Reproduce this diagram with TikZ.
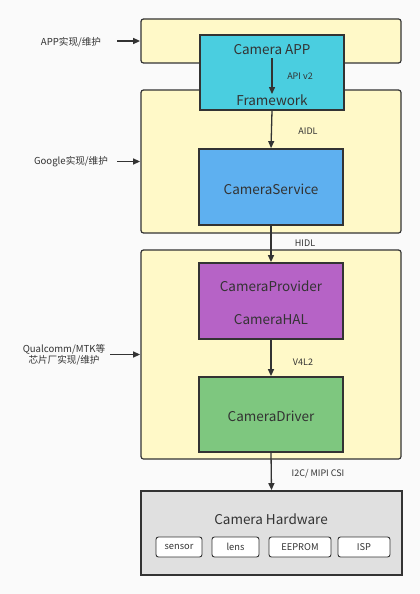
\documentclass[tikz,border=0pt]{standalone}
\usepackage{fontspec}
\setmainfont{Noto Sans CJK SC}
\usetikzlibrary{arrows.meta}
\definecolor{bgc}{HTML}{FAFAFA}
\definecolor{linec}{HTML}{333333}
\definecolor{txtc}{HTML}{333333}
\definecolor{yel}{HTML}{FFF9C8}
\definecolor{cyanc}{HTML}{4ACEE0}
\definecolor{bluec}{HTML}{5EB0F0}
\definecolor{purc}{HTML}{B663C6}
\definecolor{grnc}{HTML}{7EC77F}
\definecolor{grayc}{HTML}{E0E0E0}
\tikzset{
  ybox/.style={draw=linec, line width=1.2pt, fill=yel, rounded corners=2.5pt, minimum width=260pt, inner sep=0pt},
  cbox/.style={draw=linec, line width=1.2pt, minimum width=144pt, inner sep=0pt},
  sbox/.style={draw=linec, line width=0.9pt, fill=white, rounded corners=2.5pt, minimum height=20pt, inner sep=0pt, font=\fontsize{9.3}{10}\selectfont, text=txtc},
  big/.style={font=\fontsize{13.5}{15}\selectfont, text=txtc, inner sep=0pt},
  lab/.style={font=\fontsize{9}{11}\selectfont, text=txtc, inner sep=0pt},
  side/.style={font=\fontsize{9.6}{11.5}\selectfont, text=txtc, inner sep=0pt, align=center},
  arr/.style={-{Triangle[length=7pt,width=6pt]}, draw=linec, line width=1.3pt, shorten >=0.3pt},
}
\begin{document}
\begin{tikzpicture}[x=1pt,y=-1pt]
\fill[bgc] (0,0) rectangle (420,594);
\useasboundingbox (0,0) rectangle (420,594);
% yellow layers
\node[ybox, minimum height=44pt] (y1) at (271,41) {};
\node[ybox, minimum height=143pt] (y2) at (271,161.5) {};
\node[ybox, minimum height=209pt] (y3) at (271,354.5) {};
% inner boxes
\node[cbox, fill=cyanc, minimum height=75pt] (app) at (272,72.5) {};
\node[big] (apptxt) at (272,50) {Camera APP};
\node[big] (fw) at (272,100) {Framework};
\node[cbox, fill=bluec, minimum height=76pt] (svc) at (271,187) {};
\node[big] at (271,189) {CameraService};
\node[cbox, fill=purc, minimum height=76pt] (prov) at (271,301) {};
\node[big] (provtxt) at (271,286) {CameraProvider};
\node[big] (haltxt) at (271,320) {CameraHAL};
\node[cbox, fill=grnc, minimum height=75pt] (drv) at (271,414.5) {};
\node[big] at (271,416) {CameraDriver};
% hardware
\node[draw=linec, line width=1.2pt, fill=grayc, minimum width=261pt, minimum height=84pt, inner sep=0pt] (hw) at (271.5,533) {};
\node[big] (hwtxt) at (271,519) {Camera Hardware};
\node[sbox, minimum width=46pt] (sensor) at (179,547) {sensor};
\node[sbox, minimum width=47pt] (lens) at (235.5,547) {lens};
\node[sbox, minimum width=62pt] (eeprom) at (300,547) {EEPROM};
\node[sbox, minimum width=52pt] (isp) at (364,547) {ISP};
% vertical arrows
\draw[arr] (apptxt.south) ++(0,3) coordinate (a0) (a0) -- (fw.north);
\draw[arr] (app.south) -- (svc.north);
\draw[arr] (svc.south) -- (prov.north);
\draw[arr] (prov.south) -- (drv.north);
\draw[arr] (drv.south) -- (hw.north);
% labels
\node[lab] (apiv2) at (300,76) {API v2};
\node[lab] (aidl) at (308,131) {AIDL};
\node[lab] (hidl) at (305,243) {HIDL};
\node[lab] (v4l2) at (303,362) {V4L2};
\node[lab] (i2c) at (318,474) {I2C/ MIPI CSI};
% side labels
\node[side] (s1) at (71,42) {APP实现/维护};
\node[side] (s2) at (71,162) {Google实现/维护};
\node[side] (s3) at (64,355) {Qualcomm/MTK等\\芯片厂实现/维护};
\draw[arr] (117,41) coordinate (c1) (c1) -- (y1.west);
\draw[arr] (117,161.5) coordinate (c2) (c2) -- (y2.west);
\draw[arr] (110,354.5) coordinate (c3) (c3) -- (y3.west);
\end{tikzpicture}
\end{document}
